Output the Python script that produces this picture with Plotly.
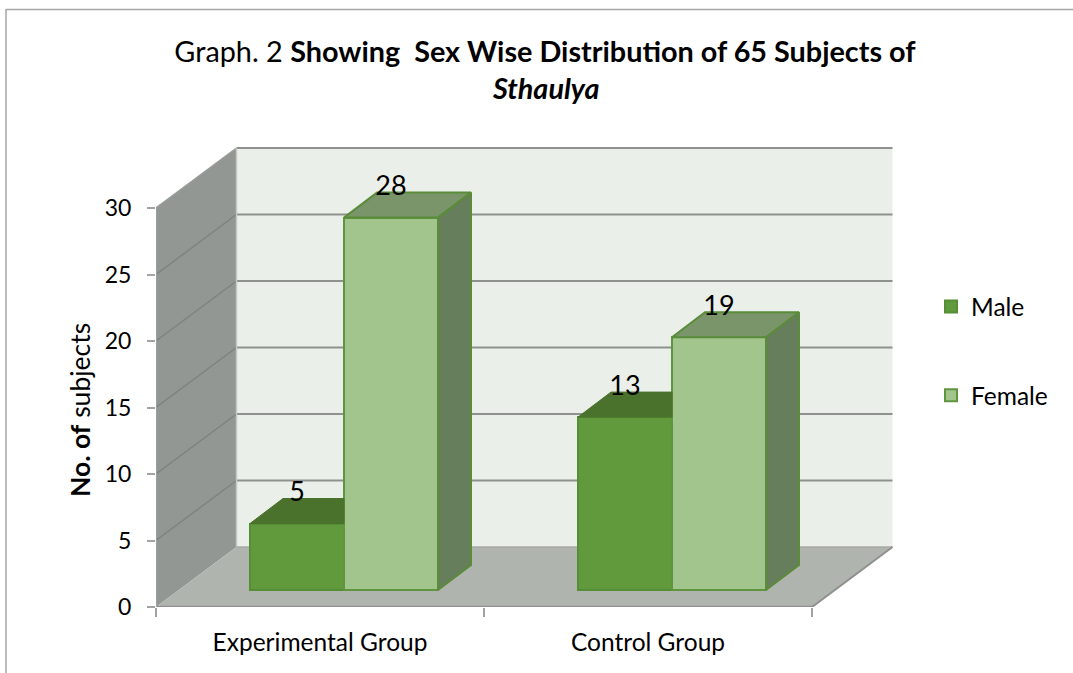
import plotly.graph_objects as go

categories = ["Experimental Group", "Control Group"]
male = [5, 13]
female = [28, 19]
y_ticks = [0, 5, 10, 15, 20, 25, 30]

W, H = 1073, 673
X0, XBACK_EDGE, Y0, YTOP_EDGE = 156, 903, 607, 137
PX_X, PX_Y = 328.0, 13.3
FONT = "Lato"
GRID = "#8f918e"

wall_dx, wall_dy = 80.5 / PX_X, 60 / PX_Y
bar_dx, bar_dy = 33 / PX_X, 25 / PX_Y
bar_w = 94 / PX_X
base = 17 / PX_Y
shift = 24 / PX_X
top = 30

pos = [i + 0.5 + shift for i in range(len(categories))]
x_male = [p - bar_w / 2 for p in pos]
x_female = [p + bar_w / 2 for p in pos]

fig = go.Figure()


def poly(xs, ys, fill, line=None, lw=2):
    fig.add_trace(go.Scatter(
        x=xs, y=ys, mode="lines", fill="toself", fillcolor=fill,
        line=dict(color=line or fill, width=lw), showlegend=False,
        hoverinfo="skip", cliponaxis=False))


def seg(xs, ys, color=GRID, lw=2):
    fig.add_trace(go.Scatter(
        x=xs, y=ys, mode="lines", line=dict(color=color, width=lw),
        showlegend=False, hoverinfo="skip", cliponaxis=False))


shapes = []


def sh_poly(pts, fill, line="rgba(0,0,0,0)", lw=0):
    d = "M" + " L".join(f"{x},{y}" for x, y in pts) + " Z"
    shapes.append(dict(type="path", path=d, xref="x", yref="y", layer="below",
                       fillcolor=fill, line=dict(color=line, width=lw)))


def sh_line(x0, y0, x1, y1, color=GRID, lw=2):
    shapes.append(dict(type="line", x0=x0, y0=y0, x1=x1, y1=y1, xref="x", yref="y",
                       layer="below", line=dict(color=color, width=lw)))


xend = len(categories)
sh_poly([(wall_dx, wall_dy), (xend + wall_dx, wall_dy), (xend + wall_dx, top + wall_dy),
         (wall_dx, top + wall_dy)], "#eaf0e9")
sh_poly([(0, 0), (wall_dx, wall_dy), (wall_dx, top + wall_dy), (0, top)], "#939793")
sh_poly([(0, 0), (xend, 0), (xend + wall_dx, wall_dy), (wall_dx, wall_dy)], "#b0b4ae")
for t in y_ticks[1:]:
    sh_line(wall_dx, t + wall_dy, xend + wall_dx, t + wall_dy)
    sh_line(0, t, wall_dx, t + wall_dy, "#7f837f" if t < top else "#999c99", 1.5)
sh_line(wall_dx, wall_dy, wall_dx, top + wall_dy, "#c4c8c3", 1.5)
sh_line(wall_dx, wall_dy, xend + wall_dx, wall_dy, "#a8aaa6", 1.5)
sh_line(xend, 0, xend + wall_dx, wall_dy, GRID, 2)

# front faces
fig.add_trace(go.Bar(
    x=x_male, y=male, base=[base] * len(male), width=[bar_w] * len(male), name="Male",
    legendgroup="m", marker=dict(color="#619a3c", line=dict(color="#558e34", width=2)),
    hoverinfo="name+y"))
fig.add_trace(go.Bar(
    x=x_female, y=female, base=[base] * len(female), width=[bar_w] * len(female), name="Female",
    legendgroup="f", marker=dict(color="#a2c58d", line=dict(color="#5f953f", width=2)),
    hoverinfo="name+y"))

# depth faces derived from the values
for xm, xf, vm, vf in zip(x_male, x_female, male, female):
    l, r = xm - bar_w / 2, xm + bar_w / 2
    t = vm + base
    poly([l, l + bar_dx, r, r, l], [t, t + bar_dy, t + bar_dy, t, t], "#4a722d", "#4a722d", 1)
    l, r = xf - bar_w / 2, xf + bar_w / 2
    t = vf + base
    poly([l, l + bar_dx, r + bar_dx, r, l], [t, t + bar_dy, t + bar_dy, t, t], "#7a9569", "#5a8c3a", 2)
    poly([r, r + bar_dx, r + bar_dx, r, r], [t, t + bar_dy, base + bar_dy, base, t], "#667e5b", "#5a8c3a", 2)

# axis lines that stay on top of the walls
seg([0, xend], [0, 0], GRID, 2.5)
seg([0, 0], [0, top], "#a0a3a0", 1.5)

# data labels
fig.add_trace(go.Scatter(
    x=x_male + x_female, y=[v + base + 29 / PX_Y for v in male + female],
    text=[str(v) for v in male + female], mode="text", showlegend=False, hoverinfo="skip",
    textfont=dict(family=FONT, size=27, color="#000000"), textposition="middle center",
    cliponaxis=False))

# outer border
bx = lambda px: (px - X0) / (XBACK_EDGE - X0)
by = lambda py: (Y0 - py) / (Y0 - YTOP_EDGE)
shapes.append(dict(type="line", xref="paper", yref="paper", x0=bx(5.5), x1=bx(W), y0=by(9.5), y1=by(9.5),
                   line=dict(color="#a6a6a6", width=1.5)))
shapes.append(dict(type="line", xref="paper", yref="paper", x0=bx(6), x1=bx(6), y0=by(9.5), y1=by(H),
                   line=dict(color="#a6a6a6", width=1.5)))

fig.update_layout(
    width=W, height=H, barmode="overlay", bargap=0,
    margin=dict(l=X0, r=W - XBACK_EDGE, t=YTOP_EDGE, b=H - Y0, pad=0, autoexpand=False),
    paper_bgcolor="#ffffff", plot_bgcolor="rgba(0,0,0,0)",
    font=dict(family=FONT, size=21, color="#000000"),
    title=dict(
        text="Graph. 2 <b>Showing\u00a0\u00a0Sex Wise Distribution of 65 Subjects of</b>",
        x=545 / W, xanchor="center", y=1 - 52 / H, yanchor="middle", font=dict(size=28.8)),
    shapes=shapes,
    annotations=[
        dict(text="<b><i>Sthaulya</i></b>", xref="paper", yref="paper", x=bx(545), y=by(88),
             showarrow=False, xanchor="center", yanchor="middle", font=dict(size=28.8)),
        dict(text="<b>No. of</b> subjects", xref="paper", yref="paper", x=bx(80), y=by(410),
             showarrow=False, textangle=-90, xanchor="center", yanchor="middle", font=dict(size=26.5)),
    ],
    xaxis=dict(
        range=[0, (XBACK_EDGE - X0) / PX_X], tickmode="array", tickvals=[0.5, 1.5], ticktext=categories,
        ticks="", ticklabelstandoff=18, showgrid=False, zeroline=False, showline=False,
        minor=dict(tickmode="array", tickvals=[0, 1, 2], ticks="outside", ticklen=9,
                   tickcolor="#a0a3a0", tickwidth=1.5, showgrid=False),
        tickfont=dict(size=24.5)),
    yaxis=dict(
        range=[0, (Y0 - YTOP_EDGE) / PX_Y], tickmode="array", tickvals=y_ticks,
        ticks="outside", ticklen=8, tickcolor="#a0a3a0", tickwidth=1.5, ticklabelstandoff=11,
        showgrid=False, zeroline=False, showline=False, tickfont=dict(size=23)),
    legend=dict(
        x=bx(931), y=by(284), xanchor="left", yanchor="top", tracegroupgap=54,
        bgcolor="rgba(0,0,0,0)", font=dict(size=24.5), itemclick=False, itemdoubleclick=False),
)

fig.write_html("out.html", config={"displayModeBar": False},
               post_script="document.body.style.margin='0';")
